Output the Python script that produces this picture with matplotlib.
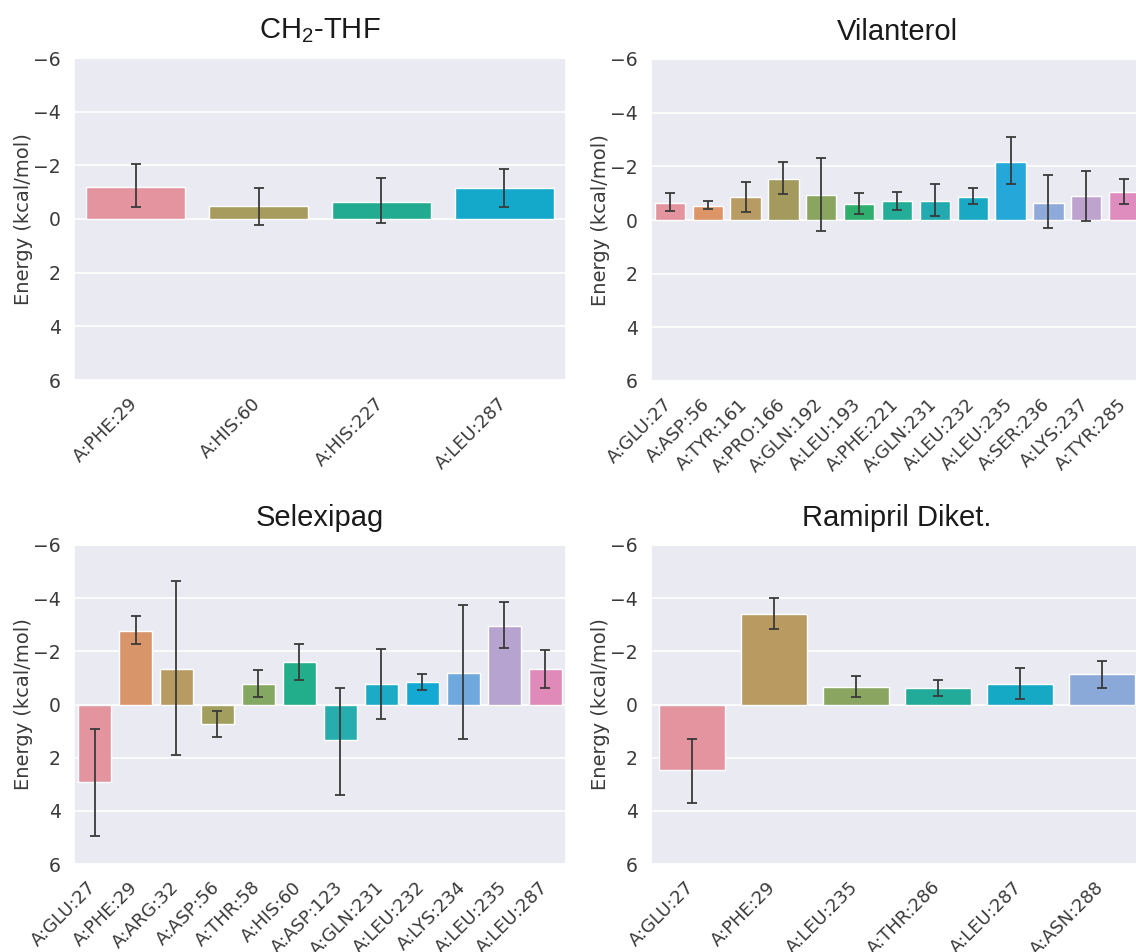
import matplotlib
matplotlib.use("Agg")
import matplotlib.pyplot as plt
import matplotlib.transforms as mtransforms
import numpy as np
import seaborn as sns

sns.set_theme(style="darkgrid")
plt.rcParams["font.family"] = ["DejaVu Sans"]

# ---------------- data ----------------
ch2_res = ["A:PHE:29", "A:HIS:60", "A:HIS:227", "A:LEU:287"]
ch2_val = [-1.21, -0.47, -0.64, -1.14]
ch2_lo = [-2.04, -1.17, -1.51, -1.86]
ch2_hi = [-0.43, 0.21, 0.16, -0.46]
ch2_col = ["#e3949f", "#a89b5e", "#22ab91", "#14a8cb"]

vil_res = ["A:GLU:27", "A:ASP:56", "A:TYR:161", "A:PRO:166", "A:GLN:192",
           "A:LEU:193", "A:PHE:221", "A:GLN:231", "A:LEU:232", "A:LEU:235",
           "A:SER:236", "A:LYS:237", "A:TYR:285"]
vil_val = [-0.64, -0.54, -0.84, -1.54, -0.93, -0.59, -0.71, -0.71, -0.86,
           -2.18, -0.65, -0.88, -1.04]
vil_lo = [-0.99, -0.71, -1.41, -2.18, -2.30, -0.99, -1.06, -1.34, -1.18,
          -3.09, -1.68, -1.81, -1.53]
vil_hi = [-0.33, -0.41, -0.30, -0.96, 0.41, -0.24, -0.39, -0.15, -0.60,
          -1.33, 0.31, 0.03, -0.59]
vil_col = ["#e3949f", "#dd9467", "#b89a63", "#a59a5e", "#8aa55f", "#2fae6e",
           "#24ad98", "#23aab0", "#19a9c5", "#25a7d9", "#8eaadb", "#bfa3cf",
           "#df8cbf"]

sel_res = ["A:GLU:27", "A:PHE:29", "A:ARG:32", "A:ASP:56", "A:THR:58",
           "A:HIS:60", "A:ASP:123", "A:GLN:231", "A:LEU:232", "A:LYS:234",
           "A:LEU:235", "A:LEU:287"]
sel_val = [2.92, -2.78, -1.35, 0.73, -0.76, -1.59, 1.35, -0.76, -0.83,
           -1.20, -2.97, -1.33]
sel_lo = [0.93, -3.32, -4.66, 0.24, -1.28, -2.27, -0.62, -2.10, -1.16,
          -3.75, -3.85, -2.05]
sel_hi = [4.93, -2.29, 1.91, 1.24, -0.27, -0.93, 3.39, 0.53, -0.53,
          1.30, -2.12, -0.62]
sel_col = ["#e3949f", "#d8956a", "#b89b63", "#a19e5e", "#84a862", "#22ad8b",
           "#27adad", "#1babc4", "#13a9d3", "#6fa8dc", "#b6a3cf", "#e08ab9"]

ram_res = ["A:GLU:27", "A:PHE:29", "A:LEU:235", "A:THR:286", "A:LEU:287",
           "A:ASN:288"]
ram_val = [2.48, -3.41, -0.66, -0.61, -0.77, -1.13]
ram_lo = [1.28, -4.01, -1.08, -0.92, -1.36, -1.65]
ram_hi = [3.72, -2.85, -0.27, -0.33, -0.19, -0.62]
ram_col = ["#e3949f", "#b99a61", "#89a55f", "#22ab99", "#16a9c6", "#8aa8d8"]

yticks = [-6, -4, -2, 0, 2, 4, 6]
ylabel = "Energy (kcal/mol)"

# ---------------- figure ----------------
W, H = 1136, 952
fig = plt.figure(figsize=(W / 100, H / 100), dpi=100)
label_shift = mtransforms.ScaledTranslation(-7 / 100, -1 / 100,
                                            fig.dpi_scale_trans)


def px_axes(left, top, right, bottom):
    return fig.add_axes([left / W, (H - bottom) / H, (right - left) / W,
                         (bottom - top) / H])


def draw(ax, res, val, lo, hi, cols, title):
    x = np.arange(len(res))
    val = np.asarray(val)
    lo = np.asarray(lo)
    hi = np.asarray(hi)
    ax.bar(x, val, width=0.8, color=cols, edgecolor="white", linewidth=1.0,
           zorder=2)
    ax.errorbar(x, val, yerr=[val - lo, hi - val], fmt="none",
                ecolor="#3a3a3a", elinewidth=1.3, capsize=3.6, capthick=1.3,
                zorder=3)
    ax.set_xlim(-0.5, len(res) - 0.5)
    ax.set_ylim(6, -6)
    ax.set_yticks(yticks)
    ax.set_xticks(x)
    ax.set_xticklabels(res, rotation=45, ha="right", rotation_mode="anchor",
                       fontsize=13, color="#3a3a3a")
    for lab in ax.get_xticklabels():
        lab.set_transform(lab.get_transform() + label_shift)
    ax.tick_params(axis="y", labelsize=13.5, labelcolor="#3a3a3a")
    ax.grid(False, axis="x")
    ax.grid(True, axis="y", color="white", linewidth=1.2)
    ax.set_ylabel(ylabel, fontsize=14, color="#3a3a3a", labelpad=0)
    ax.set_title(title, fontsize=21, family=["Liberation Sans", "DejaVu Sans"],
                 color="#1a1a1a", pad=14)


ax1 = px_axes(74, 58, 566, 380)
ax2 = px_axes(651, 59, 1143, 381)
ax3 = px_axes(74, 545, 566, 864)
ax4 = px_axes(651, 545, 1143, 864)

draw(ax1, ch2_res, ch2_val, ch2_lo, ch2_hi, ch2_col, r"CH$_\mathregular{2}$-THF")
draw(ax2, vil_res, vil_val, vil_lo, vil_hi, vil_col, "Vilanterol")
draw(ax3, sel_res, sel_val, sel_lo, sel_hi, sel_col, "Selexipag")
draw(ax4, ram_res, ram_val, ram_lo, ram_hi, ram_col, "Ramipril Diket.")

fig.savefig("out.png", dpi=100)
